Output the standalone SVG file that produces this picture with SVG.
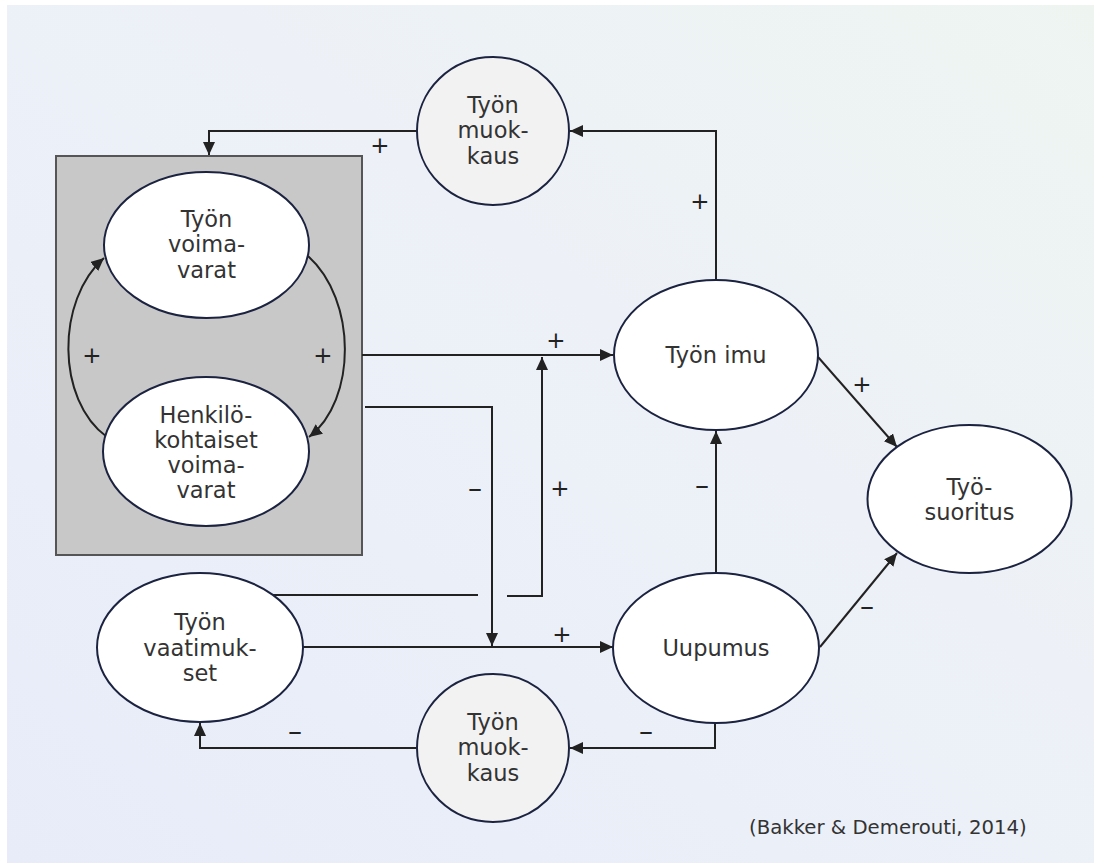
<svg xmlns="http://www.w3.org/2000/svg" width="1094" height="863" viewBox="0 0 1094 863">
<defs>
<linearGradient id="bg" x1="0" y1="1" x2="1" y2="0">
<stop offset="0" stop-color="#e8ecf9"/>
<stop offset="0.6" stop-color="#edf1f7"/>
<stop offset="1" stop-color="#eef5f1"/>
</linearGradient>
<marker id="ah" markerUnits="userSpaceOnUse" markerWidth="14" markerHeight="12" viewBox="0 0 14 12" refX="13" refY="6" orient="auto">
<path d="M0,0 L13,6 L0,12 z" fill="#222"/>
</marker>
<style>
.node{fill:#fff;stroke:#1c2340;stroke-width:2}
.gnode{fill:#f2f2f2;stroke:#1c2340;stroke-width:2}
.t{font-family:"DejaVu Sans",Verdana,sans-serif;font-size:22.5px;fill:#333;text-anchor:middle}
.s{font-family:"DejaVu Sans",Verdana,sans-serif;font-size:23px;fill:#222;text-anchor:middle}
.d{font-family:"DejaVu Sans",Verdana,sans-serif;font-size:28px;fill:#222;text-anchor:middle}
.c{fill:none;stroke:#222;stroke-width:2}
.a{marker-end:url(#ah)}
</style>
</defs>
<rect x="0" y="0" width="1094" height="863" fill="#fff"/>
<rect x="7" y="5" width="1087" height="858" fill="url(#bg)"/>
<g id="box">
<rect x="56" y="156" width="306" height="399" fill="#c8c8c8" stroke="#555" stroke-width="2"/>
</g>
<g id="connectors">
<path class="c a" d="M417,131 H209 V155"/>
<path class="c a" d="M716,280 V131 H570"/>
<path class="c a" d="M362,355 H613"/>
<path class="c a" d="M365,407 H492 V646"/>
<path class="c" d="M273,595 H478"/>
<path class="c a" d="M507,596 H542 V357"/>
<path class="c a" d="M303,647 H613"/>
<path class="c a" d="M716,573 V431"/>
<path class="c a" d="M818,357 L897,447"/>
<path class="c a" d="M820,647 L897,553"/>
<path class="c a" d="M715,722 V748 H570"/>
<path class="c a" d="M416,748 H200 V723"/>
<path class="c a" d="M107,437 C56,400 56,300 104,258"/>
<path class="c a" d="M308,256 C357,300 357,400 309,437"/>
</g>
<g id="signs">
<text class="s" x="380" y="153">+</text>
<text class="s" x="700" y="209">+</text>
<text class="s" x="92" y="363">+</text>
<text class="s" x="323" y="363">+</text>
<text class="s" x="556" y="348">+</text>
<text class="d" x="475" y="498">–</text>
<text class="s" x="560" y="496">+</text>
<text class="d" x="702" y="495">–</text>
<text class="s" x="862" y="392">+</text>
<text class="d" x="867" y="616">–</text>
<text class="s" x="562" y="642">+</text>
<text class="d" x="646" y="741">–</text>
<text class="d" x="295" y="741">–</text>
</g>
<g id="muokkaus-top">
<ellipse class="gnode" cx="493" cy="131" rx="76" ry="74"/>
<text class="t" x="493" y="113">Työn</text>
<text class="t" x="493" y="138">muok-</text>
<text class="t" x="493" y="164">kaus</text>
</g>
<g id="voimavarat">
<ellipse class="node" cx="206.5" cy="245" rx="102.5" ry="73"/>
<text class="t" x="206.5" y="227">Työn</text>
<text class="t" x="206.5" y="252">voima-</text>
<text class="t" x="206.5" y="278">varat</text>
</g>
<g id="henkilokohtaiset">
<ellipse class="node" cx="206" cy="451.5" rx="103" ry="74.5"/>
<text class="t" x="206" y="423">Henkilö-</text>
<text class="t" x="206" y="448">kohtaiset</text>
<text class="t" x="206" y="473">voima-</text>
<text class="t" x="206" y="498">varat</text>
</g>
<g id="imu">
<ellipse class="node" cx="716" cy="355" rx="102" ry="75"/>
<text class="t" x="716" y="363">Työn imu</text>
</g>
<g id="uupumus">
<ellipse class="node" cx="716" cy="648" rx="103" ry="75"/>
<text class="t" x="716" y="656">Uupumus</text>
</g>
<g id="suoritus">
<ellipse class="node" cx="969.5" cy="499" rx="102" ry="74"/>
<text class="t" x="969.5" y="495">Työ-</text>
<text class="t" x="969.5" y="520">suoritus</text>
</g>
<g id="vaatimukset">
<ellipse class="node" cx="200" cy="647.5" rx="103" ry="74.5"/>
<text class="t" x="200" y="630">Työn</text>
<text class="t" x="200" y="656">vaatimuk-</text>
<text class="t" x="200" y="681">set</text>
</g>
<g id="muokkaus-bottom">
<ellipse class="gnode" cx="493" cy="748" rx="76" ry="74"/>
<text class="t" x="493" y="730">Työn</text>
<text class="t" x="493" y="755">muok-</text>
<text class="t" x="493" y="781">kaus</text>
</g>
<text x="749" y="834" font-family="DejaVu Sans, Verdana, sans-serif" font-size="19.7" fill="#333">(Bakker &amp; Demerouti, 2014)</text>
</svg>
